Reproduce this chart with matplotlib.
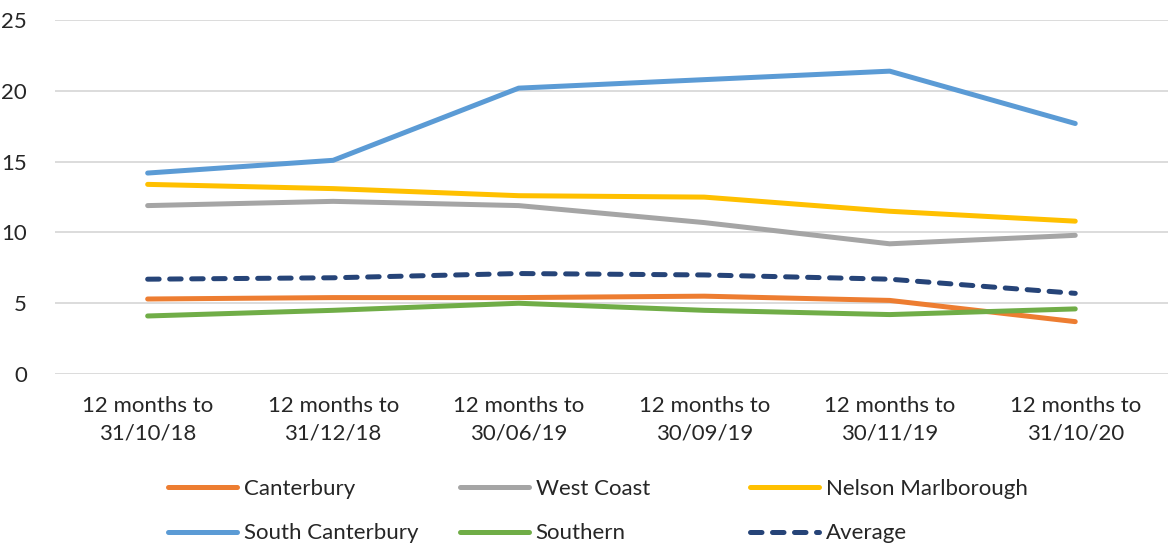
import matplotlib
matplotlib.use("Agg")
import matplotlib.pyplot as plt

plt.rcParams['font.family'] = ['Lato', 'DejaVu Sans']

categories = ["12 months to\n31/10/18", "12 months to\n31/12/18", "12 months to\n30/06/19",
              "12 months to\n30/09/19", "12 months to\n30/11/19", "12 months to\n31/10/20"]
canterbury = [5.3, 5.4, 5.4, 5.5, 5.2, 3.7]
west_coast = [11.9, 12.2, 11.9, 10.7, 9.2, 9.8]
nelson_marlborough = [13.4, 13.1, 12.6, 12.5, 11.5, 10.8]
south_canterbury = [14.2, 15.1, 20.2, 20.8, 21.4, 17.7]
southern = [4.1, 4.5, 5.0, 4.5, 4.2, 4.6]
average = [6.7, 6.8, 7.1, 7.0, 6.7, 5.7]
yticks = [0, 5, 10, 15, 20, 25]

TXT = "#262626"
FS = 16

fig = plt.figure(figsize=(11.68, 5.46), dpi=100)
ax = fig.add_axes([0.047, 0.315, 0.953, 0.648])
x = list(range(len(categories)))
lw = 3.6
series = [
    ("Canterbury", canterbury, "#ED7D31"),
    ("West Coast", west_coast, "#A5A5A5"),
    ("Nelson Marlborough", nelson_marlborough, "#FFC000"),
    ("South Canterbury", south_canterbury, "#5B9BD5"),
    ("Southern", southern, "#70AD47"),
]
handles = {}
for name, vals, col in series:
    h, = ax.plot(x, vals, color=col, lw=lw, solid_capstyle='round', solid_joinstyle='round', label=name)
    handles[name] = h
h, = ax.plot(x, average, color="#264478", lw=lw, linestyle=(0, (2.3, 2.1)),
             dash_capstyle='round', label="Average")
handles["Average"] = h

ax.set_xlim(-0.5, 5.5)
ax.set_ylim(0, 25)
ax.set_yticks(yticks)
ax.set_xticks(x)
ax.set_xticklabels(categories, fontsize=FS, color=TXT, linespacing=1.45)
ax.tick_params(axis='y', labelsize=FS, colors=TXT, length=0, pad=20)
ax.tick_params(axis='x', length=0, pad=16)
ax.grid(axis='y', color="#D9D9D9", lw=1.3)
ax.set_axisbelow(True)
for s in ax.spines.values():
    s.set_visible(False)

columns = [["Canterbury", "South Canterbury"],
           ["West Coast", "Southern"],
           ["Nelson Marlborough", "Average"]]
col_x = [168, 460, 750]
for names, px in zip(columns, col_x):
    leg = fig.legend(handles=[handles[n] for n in names], labels=names,
                     loc='upper left', bbox_to_anchor=(px / 1168, 1 - 479 / 546),
                     frameon=False, fontsize=FS, handlelength=3.1, handletextpad=0.3,
                     labelspacing=1.1, borderpad=0, borderaxespad=0)
    for t in leg.get_texts():
        t.set_color(TXT)

fig.savefig("out.png", dpi=100)
